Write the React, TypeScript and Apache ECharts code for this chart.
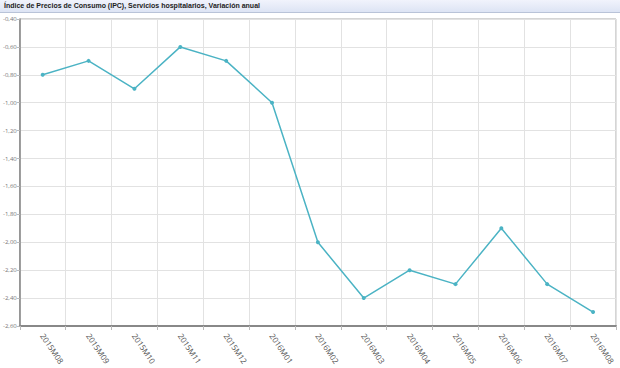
import React, { useEffect, useRef } from "react";
import * as echarts from "echarts";

const titleText = "Índice de Precios de Consumo (IPC), Servicios hospitalarios, Variación anual";
const categories = [
  "2015M08", "2015M09", "2015M10", "2015M11", "2015M12", "2016M01", "2016M02",
  "2016M03", "2016M04", "2016M05", "2016M06", "2016M07", "2016M08",
];
const values = [-0.8, -0.7, -0.9, -0.6, -0.7, -1.0, -2.0, -2.4, -2.2, -2.3, -1.9, -2.3, -2.5];
const yMin = -2.6;
const yMax = -0.4;
const yStep = 0.2;

export default function App() {
  const ref = useRef<HTMLDivElement>(null);
  useEffect(() => {
    if (!ref.current) return;
    const chart = echarts.init(ref.current, null, { renderer: "svg" });
    chart.setOption({
      animation: false,
      backgroundColor: "#ffffff",
      graphic: [
        {
          type: "rect",
          left: 0,
          top: 0,
          shape: { width: 620, height: 12 },
          style: {
            fill: new echarts.graphic.LinearGradient(0, 0, 0, 1, [
              { offset: 0, color: "#f1f3fc" },
              { offset: 1, color: "#dde4f4" },
            ]),
          },
          z: 0,
        },
        {
          type: "line",
          shape: { x1: 0, y1: 12.5, x2: 620, y2: 12.5 },
          style: { stroke: "#b9c3d8", lineWidth: 1 },
        },
        {
          type: "text",
          left: 4,
          top: 1.5,
          style: {
            text: titleText,
            font: "bold 7px 'Liberation Sans', Arial, sans-serif",
            fill: "#222",
          },
        },
      ],
      grid: {
        left: 18,
        right: 4,
        top: 19,
        bottom: 42,
        show: true,
        borderColor: "#aaaaaa",
        borderWidth: 1,
        backgroundColor: "#ffffff",
      },
      xAxis: {
        type: "category",
        data: categories,
        boundaryGap: true,
        axisLine: { show: true, lineStyle: { color: "#888", width: 2 } },
        axisTick: { show: true, length: 4, lineStyle: { color: "#bbb" } },
        splitLine: { show: true, interval: 0, lineStyle: { color: "#e2e2e2", width: 1 } },
        axisLabel: {
          rotate: -56,
          interval: 0,
          fontSize: 8,
          color: "#555",
          margin: 8,
          fontFamily: "'Open Sans', sans-serif",
        },
      },
      yAxis: {
        type: "value",
        min: yMin,
        max: yMax,
        interval: yStep,
        axisLine: { show: true, lineStyle: { color: "#888", width: 1.5 } },
        axisTick: { show: true, length: 3, lineStyle: { color: "#bbb" } },
        splitLine: { show: true, lineStyle: { color: "#e2e2e2", width: 1 } },
        axisLabel: {
          fontSize: 6,
          color: "#777",
          margin: 3,
          fontFamily: "'Open Sans', sans-serif",
          formatter: (v: number) => v.toFixed(2).replace(".", ","),
        },
      },
      series: [
        {
          type: "line",
          data: values,
          color: "#4bb3c4",
          lineStyle: { color: "#4bb3c4", width: 1.5 },
          symbol: "circle",
          symbolSize: 4,
          itemStyle: { color: "#4bb3c4" },
        },
      ],
    });
    return () => chart.dispose();
  }, []);
  return (
    <div
      ref={ref}
      style={{ position: "fixed", left: 0, top: 0, width: 620, height: 368 }}
    />
  );
}
